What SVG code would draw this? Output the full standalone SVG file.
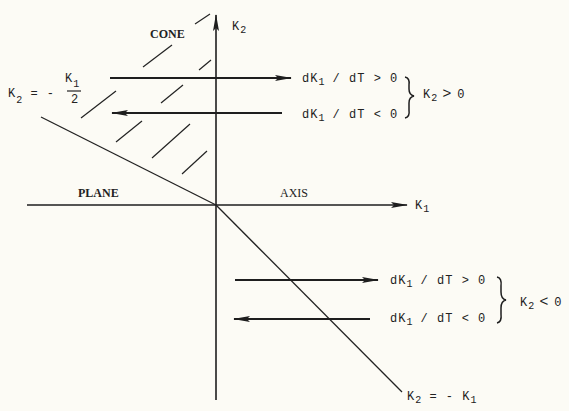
<svg xmlns="http://www.w3.org/2000/svg" width="569" height="411" viewBox="0 0 569 411">
<defs>
<marker id="ah" viewBox="0 0 17 8" refX="16" refY="4" markerWidth="17" markerHeight="8" markerUnits="userSpaceOnUse" orient="auto">
<path d="M0,1 L17,4 L0,7 L3,4 Z" fill="#1e1e1e"/>
</marker>
</defs>
<style>
.ax{stroke:#1e1e1e;stroke-width:1.6;fill:none}
.ar{stroke:#1e1e1e;stroke-width:2;fill:none}
.ln{stroke:#222;stroke-width:1.3;fill:none}
.ht{stroke:#222;stroke-width:1.2;fill:none}
.br{stroke:#1e1e1e;stroke-width:1.5;fill:none}
.t{font-family:"Liberation Mono",monospace;font-size:12px;fill:#222;letter-spacing:1px}
.s{font-size:10px;letter-spacing:0}
.g{font-family:"Liberation Sans",sans-serif;font-size:15px}
.lb{font-family:"Liberation Serif",serif;font-size:12px;fill:#222}
</style>
<rect width="569" height="411" fill="#fcfbf5"/>
<g id="axes">
<line class="ax" x1="216" y1="400" x2="216" y2="15" marker-end="url(#ah)"/>
<line class="ax" x1="27" y1="205" x2="407" y2="205" marker-end="url(#ah)"/>
</g>
<g id="boundaries">
<line class="ln" x1="41" y1="117" x2="216" y2="205"/>
<line class="ln" x1="216" y1="205" x2="402" y2="392"/>
</g>
<g id="hatch">
<line class="ht" x1="195" y1="24" x2="210" y2="14"/>
<line class="ht" x1="143" y1="67" x2="172" y2="45"/>
<line class="ht" x1="199" y1="70" x2="211" y2="60"/>
<line class="ht" x1="81" y1="118" x2="116" y2="91"/>
<line class="ht" x1="161" y1="103" x2="183" y2="85"/>
<line class="ht" x1="116" y1="142" x2="142" y2="121"/>
<line class="ht" x1="152" y1="158" x2="190" y2="124"/>
<line class="ht" x1="182" y1="174" x2="207" y2="151"/>
</g>
<g id="connectors">
<line class="ar" x1="110" y1="78" x2="291" y2="78" marker-end="url(#ah)"/>
<line class="ar" x1="282" y1="113" x2="112" y2="113" marker-end="url(#ah)"/>
<line class="ar" x1="235" y1="280" x2="378" y2="280" marker-end="url(#ah)"/>
<line class="ar" x1="370" y1="319" x2="234" y2="319" marker-end="url(#ah)"/>
</g>
<g id="braces">
<path class="br" d="M405,77 Q410,78 409,85 L409,89 Q409,95 414,96 Q409,97 409,103 L409,110 Q410,117 405,118"/>
<path class="br" d="M497,277 Q502,278 501,286 L501,292 Q501,299 506,300 Q501,301 501,308 L501,314 Q502,322 497,323"/>
</g>
<g id="labels">
<text class="lb" x="150" y="38" font-weight="bold" font-size="11">CONE</text>
<text class="lb" x="78" y="197" font-weight="bold">PLANE</text>
<text class="lb" x="280" y="197">AXIS</text>
<text class="t" x="232" y="30">K<tspan class="s" dy="3">2</tspan></text>
<text class="t" x="415" y="209">K<tspan class="s" dy="3">1</tspan></text>
<text class="t" x="8" y="97">K<tspan class="s" dy="6">2</tspan><tspan dy="-6"> = -</tspan></text>
<text class="t" x="65" y="82">K<tspan class="s" dy="5">1</tspan></text>
<line class="ht" x1="67" y1="91" x2="81" y2="91" stroke-width="1"/>
<text class="t" x="71" y="103">2</text>
<text class="t" x="302" y="82">dK<tspan class="s" dy="3">1</tspan><tspan dy="-3"> / dT &gt; 0</tspan></text>
<text class="t" x="302" y="118">dK<tspan class="s" dy="3">1</tspan><tspan dy="-3"> / dT &lt; 0</tspan></text>
<text class="t" x="423" y="98">K<tspan class="s" dy="3">2</tspan><tspan dy="-3" class="g"> &gt; </tspan>0</text>
<text class="t" x="390" y="284">dK<tspan class="s" dy="3">1</tspan><tspan dy="-3"> / dT &gt; 0</tspan></text>
<text class="t" x="390" y="322">dK<tspan class="s" dy="3">1</tspan><tspan dy="-3"> / dT &lt; 0</tspan></text>
<text class="t" x="520" y="306">K<tspan class="s" dy="3">2</tspan><tspan dy="-3" class="g"> &lt; </tspan>0</text>
<text class="t" x="407" y="400">K<tspan class="s" dy="3">2</tspan><tspan dy="-3"> = - K</tspan><tspan class="s" dy="3">1</tspan></text>
</g>
</svg>
